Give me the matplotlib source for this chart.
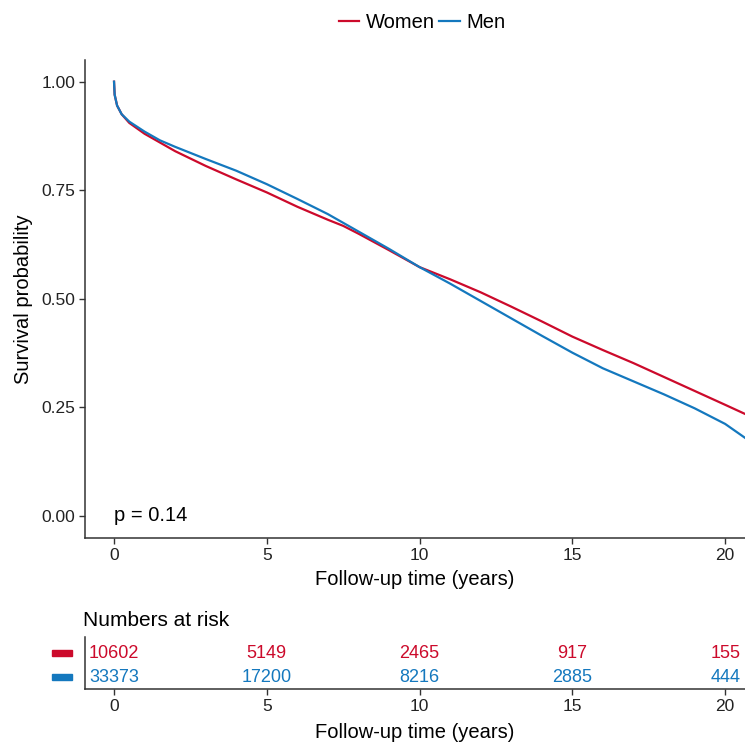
import matplotlib.pyplot as plt
from matplotlib.patches import Rectangle
import matplotlib.transforms as mtransforms

plt.rcParams['font.family'] = ['Liberation Sans', 'DejaVu Sans']

# survival curves
times = [0, 0.02, 0.1, 0.25, 0.5, 1, 1.5, 2, 3, 4, 5, 6, 7, 7.5, 8, 9, 10,
         11, 12, 13, 14, 15, 16, 17, 18, 19, 20, 20.65]
women = [1.0, 0.97, 0.945, 0.925, 0.905, 0.88, 0.86, 0.84, 0.806, 0.775, 0.745,
         0.712, 0.682, 0.668, 0.65, 0.612, 0.573, 0.545, 0.515, 0.482, 0.448,
         0.413, 0.382, 0.352, 0.32, 0.288, 0.256, 0.235]
men = [1.0, 0.97, 0.945, 0.925, 0.908, 0.885, 0.865, 0.85, 0.822, 0.795, 0.764,
       0.73, 0.695, 0.675, 0.655, 0.615, 0.573, 0.535, 0.495, 0.455, 0.415,
       0.376, 0.34, 0.31, 0.28, 0.248, 0.212, 0.18]

risk_times = [0, 5, 10, 15, 20]
risk_women = [10602, 5149, 2465, 917, 155]
risk_men = [33373, 17200, 8216, 2885, 444]

groups = ["Women", "Men"]
colors = ["#CC0A2B", "#1478BE"]

xlim = (-0.95, 20.65)

fig = plt.figure(figsize=(7.45, 7.43), dpi=100)
ax = fig.add_axes([0.1141, 0.2759, 0.8859, 0.6434])

ax.plot(times, women, color=colors[0], lw=1.6, label=groups[0])
ax.plot(times, men, color=colors[1], lw=1.6, label=groups[1])
ax.set_xlim(*xlim)
ax.set_ylim(-0.0507, 1.05)
ax.set_xticks(risk_times)
ax.set_yticks([0, 0.25, 0.5, 0.75, 1.0])
ax.set_yticklabels(["0.00", "0.25", "0.50", "0.75", "1.00"])
ax.set_xlabel("Follow-up time (years)", fontsize=14.5, labelpad=5)
ax.set_ylabel("Survival probability", fontsize=14.5, labelpad=6)
ax.text(0, 0.0, "p = 0.14", fontsize=14.5, ha="left", va="center")


def style(a):
    for side in ["top", "right"]:
        a.spines[side].set_visible(False)
    for side in ["left", "bottom"]:
        a.spines[side].set_color("#333333")
        a.spines[side].set_linewidth(1.1)
    a.tick_params(labelsize=12.5, colors="#333333", length=4, width=1, pad=3)
    a.tick_params(labelcolor="#222222")


style(ax)

fig.legend(loc="center", bbox_to_anchor=(0.567, 0.97), ncol=2, frameon=False,
           fontsize=14.5, handlelength=1.0, handletextpad=0.35, columnspacing=0.2)

# risk table
rax = fig.add_axes([0.1141, 0.0727, 0.8859, 0.07])
rax.set_xlim(*xlim)
rax.set_ylim(0.5, 2.67)
rows = [(2, risk_women, colors[0]), (1, risk_men, colors[1])]
trans = mtransforms.blended_transform_factory(rax.transAxes, rax.transData)
for y, vals, c in rows:
    for t, v in zip(risk_times, vals):
        rax.text(t, y, str(v), color=c, fontsize=13, ha="center", va="center")
    rax.add_patch(Rectangle((-0.05, y - 0.13), 0.03, 0.26, transform=trans,
                            color=c, clip_on=False))
rax.set_xticks(risk_times)
rax.set_yticks([])
rax.set_xlabel("Follow-up time (years)", fontsize=14.5, labelpad=7)
style(rax)
rax.set_title("Numbers at risk", loc="left", fontsize=15, pad=8, x=-0.003)

fig.savefig("out.png", dpi=100)
